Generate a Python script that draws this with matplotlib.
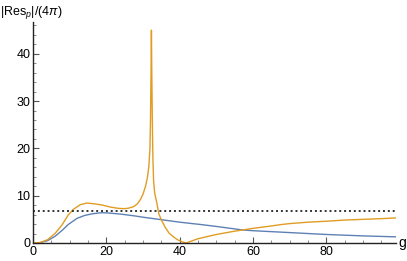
import numpy as np
import matplotlib.pyplot as plt

plt.rcParams['font.family'] = ['Liberation Sans', 'DejaVu Sans']
plt.rcParams['mathtext.fontset'] = 'custom'
plt.rcParams['mathtext.rm'] = 'Liberation Sans'
plt.rcParams['mathtext.it'] = 'Liberation Sans:italic'

# curva azul
g_blue = [0, 2, 4, 6, 8, 9.6, 12, 14, 16, 18, 19, 20.5, 24, 28, 30, 34.8,
          40, 45.8, 50, 57.2, 60, 65, 70, 80, 90, 99]
res_blue = [0, 0.08, 0.5, 1.4, 2.7, 3.9, 5.2, 5.8, 6.15, 6.35, 6.4, 6.35, 6.1,
            5.7, 5.45, 4.95, 4.4, 3.9, 3.5, 2.75, 2.6, 2.4, 2.2, 1.8, 1.5, 1.3]

# curva laranja (ressonância perto de g = 32.3)
g_orange = [0, 2, 4, 6, 8, 9.6, 11, 12.9, 14.7, 17, 19, 21.1, 23, 24.7, 26,
            27.5, 28.5, 29.3, 30, 30.7, 31.2, 31.6, 31.9, 32.05, 32.2, 32.3,
            32.4, 32.55, 32.7, 32.9, 33.2, 33.8, 34.3, 35, 36, 37.1, 38.3,
            39.4, 40.5, 41.7, 43, 45, 50, 55, 57.2, 60, 65, 67.7, 70, 75, 80,
            85, 90, 95, 99]
res_orange = [0, 0.1, 0.7, 2.0, 3.9, 5.9, 7.1, 8.1, 8.45, 8.25, 8.0, 7.6, 7.35,
              7.25, 7.35, 7.7, 8.3, 9.2, 10.3, 12.0, 13.8, 16.2, 20.0, 26.0,
              36.0, 45.0, 36.0, 26.0, 18.0, 13.0, 10.5, 8.4, 6.2, 4.9, 3.4,
              2.1, 1.3, 0.7, 0.3, 0.0, 0.35, 0.9, 1.8, 2.5, 2.75, 3.1, 3.6,
              3.9, 4.1, 4.4, 4.6, 4.85, 5.0, 5.15, 5.3]

limiar = 6.8

fig = plt.figure(figsize=(4.07, 2.61), dpi=100)
ax = fig.add_axes([0.081, 0.069, 0.892, 0.848])

ax.plot(g_blue, res_blue, color='#5E81B5', lw=1.0)
ax.plot(g_orange, res_orange, color='#E19C24', lw=1.0)
ax.axhline(limiar, color='#333333', lw=1.4, dashes=(1, 1.5))

ax.set_xlim(0, 99)
ax.set_ylim(0, 46.8)
ax.spines['top'].set_visible(False)
ax.spines['right'].set_visible(False)
for s in ['left', 'bottom']:
    ax.spines[s].set_color('#222222')
    ax.spines[s].set_linewidth(1.0)

ax.set_xticks([0, 20, 40, 60, 80])
ax.set_xticks(np.arange(0, 100, 5), minor=True)
ax.set_yticks([0, 10, 20, 30, 40])
ax.set_yticks(np.arange(0, 47, 2), minor=True)
ax.tick_params(which='major', direction='in', length=4, width=0.8,
               color='#555555', labelsize=9, pad=2)
ax.tick_params(which='minor', direction='in', length=2, width=0.6,
               color='#777777')

fig.text(0.0, 0.953, r'$|\mathrm{Res}_p|/(4\pi)$', fontsize=9, va='center', ha='left')
fig.text(0.978, 0.069, 'g', fontsize=10, va='center', ha='left')

plt.savefig('out.png', dpi=100)
